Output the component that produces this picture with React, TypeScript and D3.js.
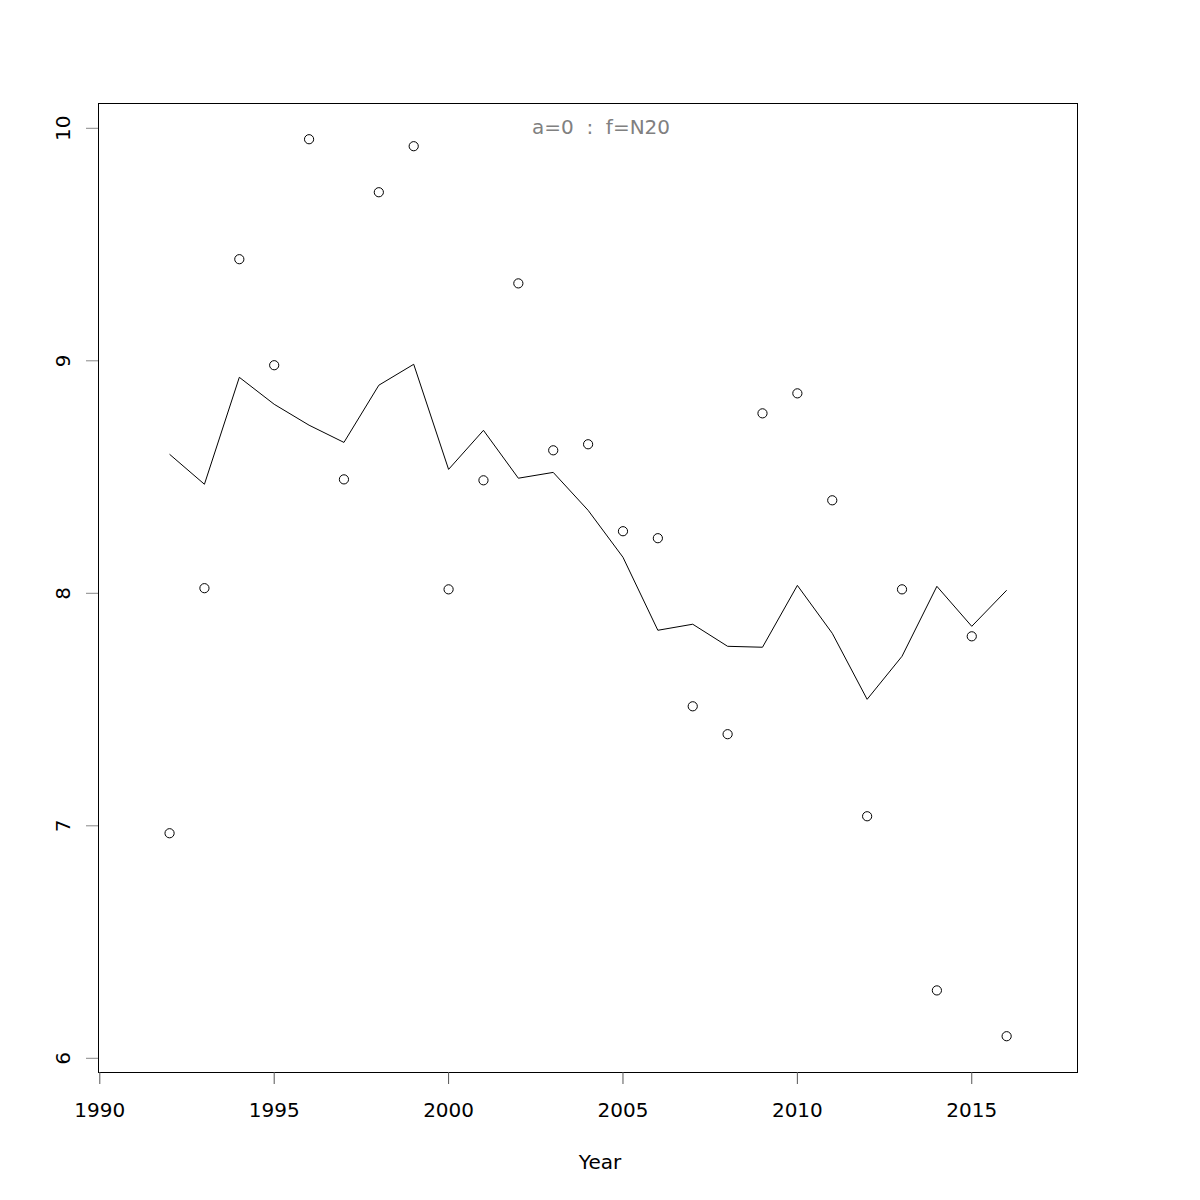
import { useEffect, useRef } from 'react'
import * as d3 from 'd3'

// --- DATA ---
const years = [
  1992, 1993, 1994, 1995, 1996, 1997, 1998, 1999, 2000, 2001, 2002, 2003, 2004,
  2005, 2006, 2007, 2008, 2009, 2010, 2011, 2012, 2013, 2014, 2015, 2016,
]
const observed = [
  6.968, 8.022, 9.437, 8.981, 9.953, 8.49, 9.725, 9.923, 8.017, 8.486, 9.333,
  8.615, 8.641, 8.267, 8.237, 7.514, 7.394, 8.774, 8.86, 8.4, 7.041, 8.017,
  6.292, 7.815, 6.095,
]
const fitted = [
  8.598, 8.469, 8.929, 8.813, 8.723, 8.649, 8.895, 8.985, 8.533, 8.701, 8.495,
  8.52, 8.357, 8.155, 7.841, 7.867, 7.772, 7.768, 8.034, 7.828, 7.544, 7.729,
  8.03, 7.858, 8.013,
]
const xTicks = [1990, 1995, 2000, 2005, 2010, 2015]
const yTicks = [6, 7, 8, 9, 10]
const title = 'a=0  :  f=N20'
const xLabel = 'Year'

const W = 1200
const H = 1200
const left = 98
const right = 1077
const top = 103
const bottom = 1072

export default function App() {
  const svgRef = useRef<SVGSVGElement | null>(null)

  useEffect(() => {
    if (!svgRef.current) return
    const svg = d3.select(svgRef.current)
    svg.selectAll('*').remove()

    const x = d3.scaleLinear().domain([1990, 2018]).range([99.8, 1076.4])
    const y = d3.scaleLinear().domain([6, 10]).range([1058.3, 128.3])

    const font = '"DejaVu Sans", sans-serif'

    // plot box
    svg
      .append('rect')
      .attr('x', left + 0.5)
      .attr('y', top + 0.5)
      .attr('width', right - left)
      .attr('height', bottom - top)
      .attr('fill', 'none')
      .attr('stroke', '#000')

    // --- X AXIS ---
    const gx = svg.append('g')
    gx.append('line')
      .attr('x1', x(1990))
      .attr('x2', x(2015))
      .attr('y1', bottom + 0.5)
      .attr('y2', bottom + 0.5)
      .attr('stroke', '#000')
    xTicks.forEach((t) => {
      gx.append('line')
        .attr('x1', x(t))
        .attr('x2', x(t))
        .attr('y1', bottom)
        .attr('y2', bottom + 12)
        .attr('stroke', '#555')
      gx.append('text')
        .attr('x', x(t))
        .attr('y', bottom + 45)
        .attr('text-anchor', 'middle')
        .style('font-family', font)
        .style('font-size', '20px')
        .text(String(t))
    })

    // --- Y AXIS ---
    const gy = svg.append('g')
    yTicks.forEach((t) => {
      gy.append('line')
        .attr('x1', left - 12)
        .attr('x2', left)
        .attr('y1', y(t))
        .attr('y2', y(t))
        .attr('stroke', '#888')
      gy.append('text')
        .attr('transform', `translate(${left - 28}, ${y(t)}) rotate(-90)`)
        .attr('text-anchor', 'middle')
        .style('font-family', font)
        .style('font-size', '20px')
        .text(String(t))
    })

    // --- LINE ---
    const line = d3
      .line<number>()
      .x((_, i) => x(years[i]))
      .y((d) => y(d))
    svg
      .append('path')
      .datum(fitted)
      .attr('d', line)
      .attr('fill', 'none')
      .attr('stroke', '#000')
      .attr('stroke-width', 1)

    // --- POINTS ---
    svg
      .append('g')
      .selectAll('circle')
      .data(observed)
      .enter()
      .append('circle')
      .attr('cx', (_, i) => x(years[i]))
      .attr('cy', (d) => y(d))
      .attr('r', 4.6)
      .attr('fill', 'none')
      .attr('stroke', '#000')
      .attr('stroke-width', 1)

    // --- TITLE / LABELS ---
    svg
      .append('text')
      .attr('x', 601)
      .attr('y', 134)
      .attr('text-anchor', 'middle')
      .attr('fill', '#808080')
      .style('font-family', font)
      .style('font-size', '20px')
      .style('white-space', 'pre')
      .attr('xml:space', 'preserve')
      .text(title)

    svg
      .append('text')
      .attr('x', 600)
      .attr('y', 1169)
      .attr('text-anchor', 'middle')
      .style('font-family', font)
      .style('font-size', '20px')
      .text(xLabel)
  }, [])

  return (
    <svg
      ref={svgRef}
      width={W}
      height={H}
      style={{ position: 'absolute', left: 0, top: 0, background: '#fff' }}
    />
  )
}
